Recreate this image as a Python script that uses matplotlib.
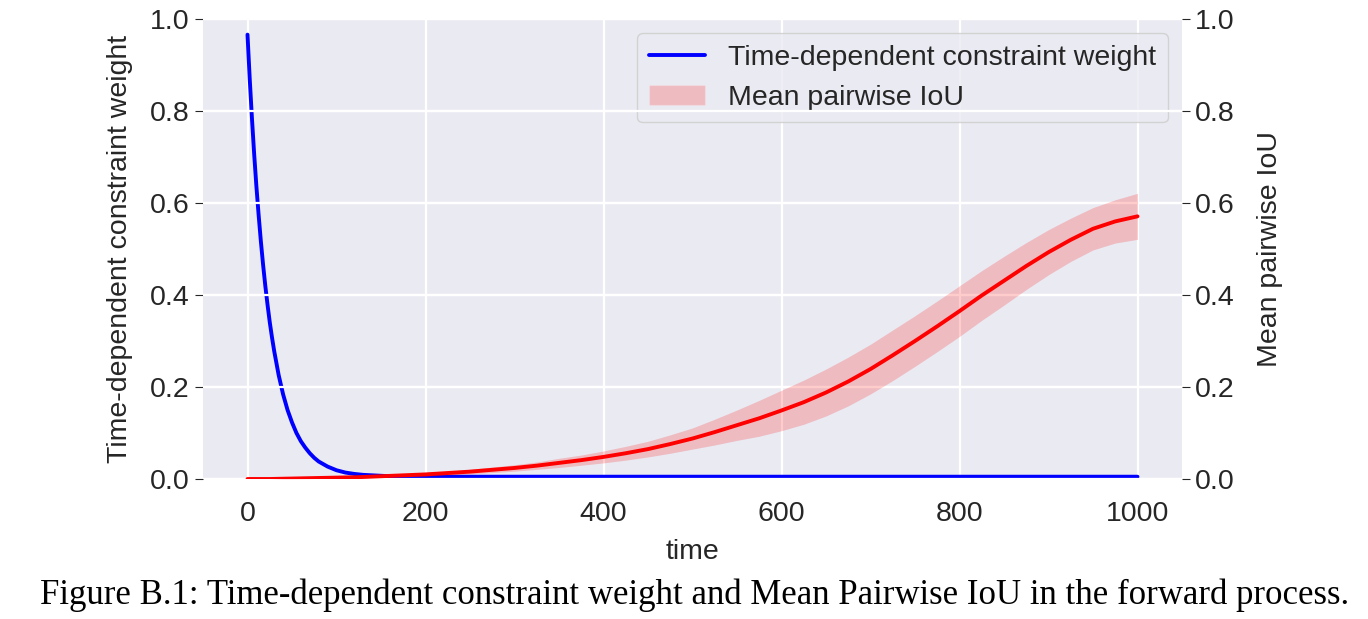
import numpy as np
import matplotlib; matplotlib.use("Agg")
import matplotlib.pyplot as plt
import seaborn as sns
from matplotlib.patches import Patch
from matplotlib.lines import Line2D

# constraint weight
t_w = [0, 2.5, 5, 7.5, 10, 12.5, 15, 17.5, 20, 22.5, 25, 27.5, 30, 35, 40, 45, 50, 55, 60, 65, 70, 75, 80, 90,
       100, 110, 120, 130, 140, 150, 160, 180, 200, 300, 400, 500, 600, 700, 800, 900, 1000]
w = [0.966, 0.870, 0.784, 0.706, 0.636, 0.574, 0.517, 0.466, 0.420, 0.379, 0.341, 0.308, 0.278, 0.226, 0.184,
     0.150, 0.123, 0.100, 0.082, 0.068, 0.056, 0.046, 0.038, 0.027, 0.019, 0.014, 0.011, 0.009, 0.008, 0.007,
     0.006, 0.0055, 0.005, 0.005, 0.005, 0.005, 0.005, 0.005, 0.005, 0.005, 0.005]
# mean pairwise IoU (line) and its band
t_iou = [0, 25, 50, 75, 100, 125, 150, 175, 200, 225, 250, 275, 300, 325, 350, 375, 400, 425, 450, 475, 500,
         525, 550, 575, 600, 625, 650, 675, 700, 725, 750, 775, 800, 825, 850, 875, 900, 925, 950, 975, 1000]
iou = [0.000, 0.000, 0.001, 0.002, 0.003, 0.004, 0.006, 0.008, 0.010, 0.013, 0.016, 0.020, 0.024, 0.029, 0.035,
       0.041, 0.048, 0.056, 0.065, 0.076, 0.088, 0.102, 0.117, 0.132, 0.149, 0.167, 0.188, 0.212, 0.239, 0.269,
       0.300, 0.332, 0.365, 0.399, 0.431, 0.463, 0.493, 0.520, 0.544, 0.560, 0.571]
iou_lo = [0.000, 0.000, 0.000, 0.001, 0.002, 0.002, 0.004, 0.005, 0.006, 0.009, 0.011, 0.014, 0.017, 0.021, 0.025,
          0.030, 0.035, 0.041, 0.048, 0.056, 0.065, 0.074, 0.084, 0.093, 0.105, 0.119, 0.137, 0.159, 0.185, 0.214,
          0.245, 0.277, 0.310, 0.345, 0.378, 0.412, 0.444, 0.473, 0.498, 0.513, 0.521]
iou_hi = [0.000, 0.000, 0.002, 0.003, 0.004, 0.006, 0.008, 0.011, 0.014, 0.017, 0.021, 0.026, 0.031, 0.037, 0.045,
          0.052, 0.061, 0.071, 0.082, 0.096, 0.111, 0.130, 0.150, 0.171, 0.193, 0.215, 0.239, 0.265, 0.293, 0.324,
          0.355, 0.387, 0.420, 0.453, 0.484, 0.514, 0.542, 0.567, 0.590, 0.607, 0.621]

sns.set_style("darkgrid")
plt.rcParams['font.family'] = ['Liberation Sans', 'DejaVu Sans']
FS = 20.5

fig = plt.figure(figsize=(13.68, 6.19), dpi=100)
ax = fig.add_axes([203/1368, 1-479/619, (1182-203)/1368, 460/619])
ax2 = ax.twinx()

ax.plot(t_w, w, color="blue", lw=2.8)
ax2.fill_between(t_iou, iou_lo, iou_hi, color="red", alpha=0.2, lw=0)
ax2.plot(t_iou, iou, color="red", lw=2.8)

for a in (ax, ax2):
    a.set_ylim(0, 1.0)
    a.set_yticks(np.arange(0, 1.01, 0.2))
    a.tick_params(axis="y", labelsize=FS, length=6, color=".15", labelcolor=".15")
    a.grid(True, color="white", lw=1.6)
    for sp in a.spines.values(): sp.set_visible(False)
ax.tick_params(axis="y", left=True)
ax2.tick_params(axis="y", right=True)
ax.tick_params(axis="x", labelsize=FS, labelcolor=".15", bottom=False, pad=12)
ax.set_xlim(-50, 1050)
ax.set_xticks([0, 200, 400, 600, 800, 1000])
ax.set_xlabel("time", fontsize=FS, color=".15", labelpad=9)
ax.set_ylabel("Time-dependent constraint weight", fontsize=FS, color=".15", labelpad=12)
ax2.set_ylabel("Mean pairwise IoU", fontsize=FS, color=".15", labelpad=16)

leg = [Line2D([0], [0], color="blue", lw=2.8, label="Time-dependent constraint weight"),
       Patch(facecolor="red", alpha=0.2, label="Mean pairwise IoU")]
ax.legend(handles=leg, loc="upper right", fontsize=FS, frameon=True, borderaxespad=0.5)

fig.text(695/1368, 0.024, "Figure B.1: Time-dependent constraint weight and Mean Pairwise IoU in the forward process.",
         ha="center", va="baseline", fontsize=25, family=["Liberation Serif", "DejaVu Serif"], color="black")
fig.savefig("out.png", dpi=100)
